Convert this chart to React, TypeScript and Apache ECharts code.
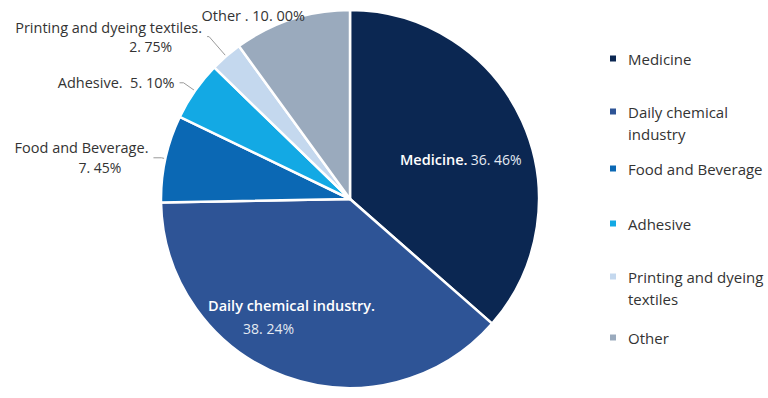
import React, { useEffect, useRef } from "react";
import * as echarts from "echarts";

const categories = [
  "Medicine",
  "Daily chemical industry",
  "Food and Beverage",
  "Adhesive",
  "Printing and dyeing textiles",
  "Other",
];
const values = [36.46, 38.24, 7.45, 5.1, 2.75, 10.0];
const legendLines = [
  ["Medicine"],
  ["Daily chemical", "industry"],
  ["Food and Beverage"],
  ["Adhesive"],
  ["Printing and dyeing", "textiles"],
  ["Other"],
];
const palette = ["#0b2752", "#2e5496", "#0b68b4", "#13a9e4", "#c4d8ee", "#9aaabd"];

const FONT = "'Open Sans', 'Noto Sans', sans-serif";

function pct(v: number) {
  return v.toFixed(2).replace(".", ". ") + "%";
}

function labelFor(name: string, v: number) {
  const p = pct(v);
  switch (name) {
    case "Medicine":
      return `{n|Medicine.} {v|${p}}`;
    case "Daily chemical industry":
      return `{n2|Daily chemical industry.}\n{v2|${p}}`;
    case "Food and Beverage":
      return `{o|Food and Beverage.}\n{o2|${p}}`;
    case "Adhesive":
      return `{o|Adhesive.  ${p}}`;
    case "Printing and dyeing textiles":
      return `{o3|Printing and dyeing textiles.}\n{o4|${p}}`;
    default:
      return `{o|Other . ${p}}`;
  }
}

const perItem: Record<string, any> = {
  Medicine: { label: { position: "inside" }, labelLine: { show: false } },
  "Daily chemical industry": { label: { position: "inside" }, labelLine: { show: false } },
  "Food and Beverage": { labelLine: { length: 4, length2: 8 } },
  Adhesive: { labelLine: { length: 14, length2: 4 } },
  "Printing and dyeing textiles": { labelLine: { length: 26, length2: 2 } },
  Other: { labelLine: { show: false, length: 5, length2: 0 } },
};

const labelShift: Record<string, [number, number]> = {
  Medicine: [22, 1],
  "Daily chemical industry": [-25, 26],
  Other: [20, 1],
};

export default function App() {
  const ref = useRef<HTMLDivElement>(null);
  useEffect(() => {
    if (!ref.current) return;
    const chart = echarts.init(ref.current, null, { renderer: "svg" });
    const legendTops = [51, 82, 161, 216, 247, 330];
    const legends = categories.map((c, i) => {
      const lines = legendLines[i];
      const twoLine = lines.length > 1;
      const txt = (twoLine ? ["{t2| }", ...lines.map((l) => `{t2|${l}}`)] : lines.map((l) => `{t|${l}}`)).join("\n");
      return {
        data: [c],
        orient: "vertical",
        left: 608,
        top: legendTops[i],
        padding: 0,
        icon: "rect",
        itemWidth: 8,
        itemHeight: 8,
        itemGap: 0,
        selectedMode: false,
        formatter: () => txt,
        textStyle: {
          fontFamily: FONT,
          fontSize: 15,
          color: "#333",
          rich: {
            t: { fontFamily: FONT, fontSize: 15, color: "#333", lineHeight: 18, padding: [0, 0, 0, 6] },
            t2: { fontFamily: FONT, fontSize: 15, color: "#333", lineHeight: 22, padding: [0, 0, 0, 6] },
          },
        },
      };
    });
    chart.setOption({
      animation: false,
      color: palette,
      legend: legends,
      series: [
        {
          type: "pie",
          center: [350, 199],
          radius: [0, 189],
          startAngle: 90,
          clockwise: true,
          avoidLabelOverlap: false,
          itemStyle: { borderColor: "#fff", borderWidth: 2.5 },
          label: {
            show: true,
            fontFamily: FONT,
            formatter: (p: any) => labelFor(p.name, p.value),
            rich: {
              n: { color: "#fff", fontFamily: FONT, fontSize: 14.5, fontWeight: 600 },
              v: { color: "#e4eaf2", fontFamily: FONT, fontSize: 14 },
              n2: { color: "#fff", fontFamily: FONT, fontSize: 14.5, fontWeight: 600, lineHeight: 23 },
              v2: { color: "#e4eaf2", fontFamily: FONT, fontSize: 14, lineHeight: 23, padding: [0, 46, 0, 0] },
              o: { color: "#333", fontFamily: FONT, fontSize: 14.5, lineHeight: 20 },
              o2: { color: "#333", fontFamily: FONT, fontSize: 14, lineHeight: 20, padding: [0, 27, 0, 0] },
              o3: { color: "#333", fontFamily: FONT, fontSize: 14.5, lineHeight: 19 },
              o4: { color: "#333", fontFamily: FONT, fontSize: 14, lineHeight: 19, padding: [0, 30, 0, 0] },
            },
          },
          labelLine: { lineStyle: { color: "#9a9a9a", width: 1 } },
          labelLayout: (params: any) => {
            const name = categories[params.dataIndex];
            const s = labelShift[name];
            return s ? { dx: s[0], dy: s[1] } : {};
          },
          data: categories.map((c, i) => ({ name: c, value: values[i], ...(perItem[c] || {}) })),
        },
      ],
    });
    return () => chart.dispose();
  }, []);
  return (
    <div
      ref={ref}
      style={{ position: "fixed", left: 0, top: 0, width: 768, height: 398, background: "#fff" }}
    />
  );
}
